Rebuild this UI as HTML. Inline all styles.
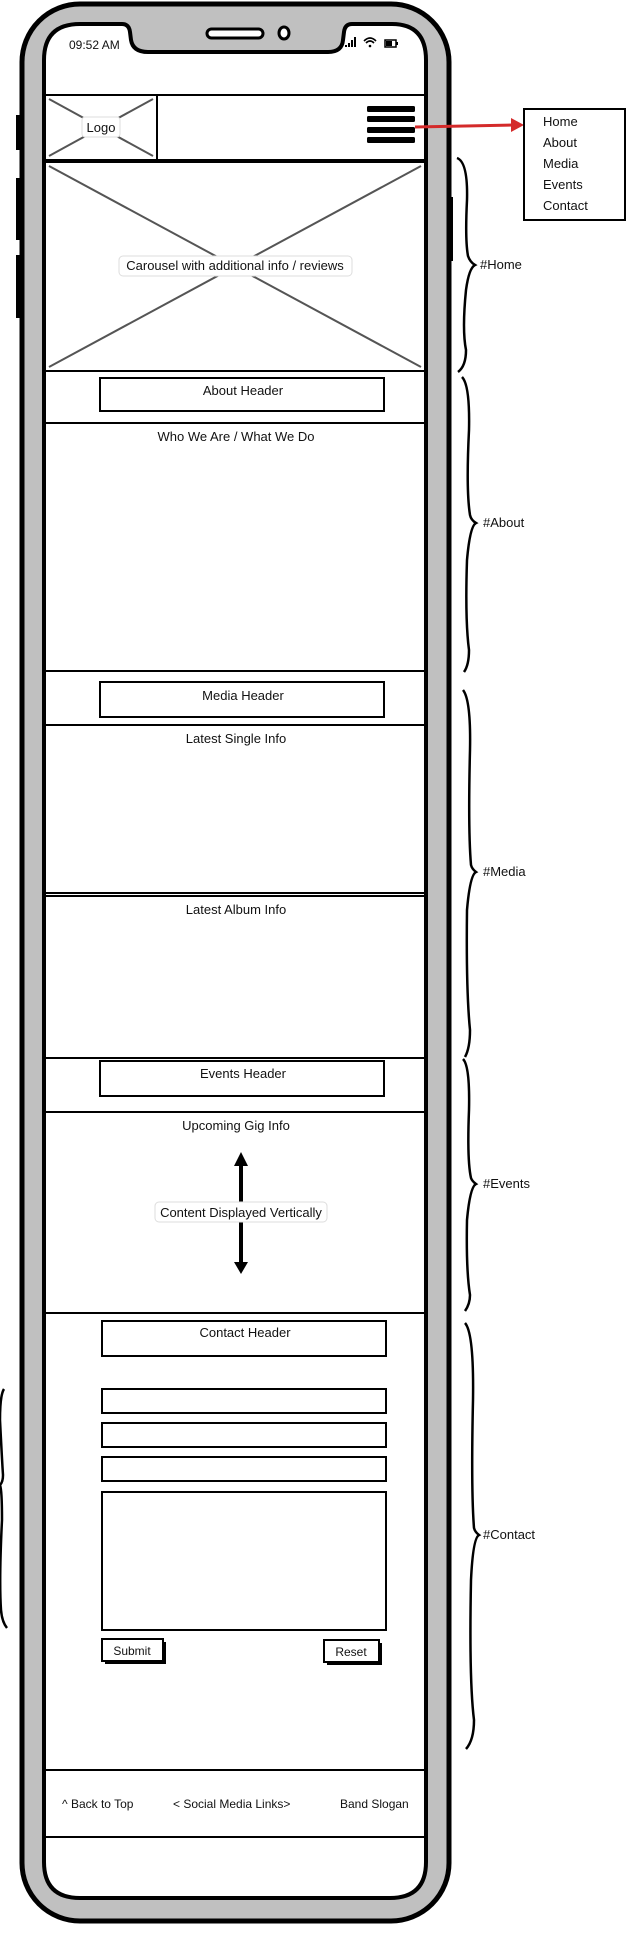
<!DOCTYPE html>
<html><head><meta charset="utf-8"><style>
html,body{margin:0;padding:0;background:#fff;}
svg{display:block;}
text{font-family:"Liberation Sans",sans-serif;fill:#111;}
</style></head><body>
<svg width="640" height="1941" viewBox="0 0 640 1941" xmlns="http://www.w3.org/2000/svg">
<!-- side buttons -->
<rect x="16" y="115" width="6" height="35" fill="#000"/>
<rect x="16" y="178" width="6" height="62" fill="#000"/>
<rect x="16" y="255" width="6" height="63" fill="#000"/>
<rect x="447" y="197" width="6" height="64" fill="#000"/>
<!-- phone body -->
<rect x="22" y="4" width="427" height="1917" rx="58" fill="#c0c0c0" stroke="#000" stroke-width="5"/>
<!-- screen -->
<path d="M80,24 L122,24 Q129,24 130,32 L131,40 Q133,52 148,52 L328,52 Q342,52 343,40 L344,32 Q345,24 352,24 L392,24 Q426,24 426,60 L426,1862 Q426,1898 390,1898 L80,1898 Q44,1898 44,1862 L44,60 Q44,24 80,24 Z" fill="#fff" stroke="#000" stroke-width="4"/>
<!-- speaker & camera -->
<rect x="207" y="29" width="56" height="9" rx="4.5" fill="#fff" stroke="#000" stroke-width="3"/>
<ellipse cx="284" cy="33" rx="5" ry="6" fill="#fff" stroke="#000" stroke-width="3"/>
<text x="69" y="49" font-size="12">09:52 AM</text>
<!-- status icons -->
<rect x="345" y="45" width="2" height="2" fill="#000"/><rect x="348" y="43" width="2" height="4" fill="#000"/><rect x="351" y="40" width="2" height="7" fill="#000"/><rect x="354" y="37" width="2" height="10" fill="#000"/>
<path d="M364,41 Q370,35 376,41 M366,43 Q370,39 374,43" stroke="#000" stroke-width="1.6" fill="none"/><circle cx="370" cy="46" r="1.3" fill="#000"/>
<rect x="385" y="40" width="11" height="7" fill="none" stroke="#000" stroke-width="1.5"/><rect x="386" y="41" width="6" height="5" fill="#000"/><rect x="396" y="42" width="2" height="3" fill="#000"/>

<g fill="none" stroke="#000">
<!-- header bar -->
<rect x="45" y="95" width="380" height="65" stroke-width="2"/>
<line x1="157" y1="95" x2="157" y2="160" stroke-width="2"/>
<line x1="49" y1="99" x2="153" y2="156" stroke="#555" stroke-width="2"/>
<line x1="153" y1="99" x2="49" y2="156" stroke="#555" stroke-width="2"/>
<!-- carousel -->
<rect x="45" y="162" width="380" height="209" stroke-width="2"/>
<line x1="49" y1="166" x2="421" y2="367" stroke="#555" stroke-width="2"/>
<line x1="421" y1="166" x2="49" y2="367" stroke="#555" stroke-width="2"/>
</g>
<rect x="82" y="117" width="38" height="20" rx="3" fill="#fff" stroke="#ddd"/>
<text x="101" y="132" font-size="13" text-anchor="middle">Logo</text>
<!-- hamburger -->
<rect x="367" y="106" width="48" height="6" rx="1.5" fill="#000"/>
<rect x="367" y="116" width="48" height="6" rx="1.5" fill="#000"/>
<rect x="367" y="127" width="48" height="6" rx="1.5" fill="#000"/>
<rect x="367" y="137" width="48" height="6" rx="1.5" fill="#000"/>
<!-- arrow -->
<path d="M415,127 L514,125" stroke="#d42a2a" stroke-width="3" fill="none"/>
<path d="M511,118 L524,125 L511,132 Z" fill="#d42a2a"/>
<!-- menu -->
<rect x="524" y="109" width="101" height="111" fill="#fff" stroke="#000" stroke-width="2"/>
<text x="543" y="126" font-size="13">Home</text>
<text x="543" y="147" font-size="13">About</text>
<text x="543" y="168" font-size="13">Media</text>
<text x="543" y="189" font-size="13">Events</text>
<text x="543" y="210" font-size="13">Contact</text>

<rect x="119" y="256" width="233" height="20" rx="4" fill="#fff" stroke="#ddd"/>
<text x="235" y="270" font-size="13" text-anchor="middle">Carousel with additional info / reviews</text>

<g fill="none" stroke="#000" stroke-width="2">
<rect x="100" y="378" width="284" height="33"/>
<rect x="45" y="423" width="380" height="248"/>
<rect x="100" y="682" width="284" height="35"/>
<rect x="45" y="725" width="380" height="168"/>
<rect x="45" y="896" width="380" height="162"/>
<rect x="100" y="1061" width="284" height="35"/>
<rect x="45" y="1112" width="380" height="201"/>
<rect x="102" y="1321" width="284" height="35"/>
<rect x="102" y="1389" width="284" height="24"/>
<rect x="102" y="1423" width="284" height="24"/>
<rect x="102" y="1457" width="284" height="24"/>
<rect x="102" y="1492" width="284" height="138"/>
<rect x="45" y="1770" width="380" height="67"/>
</g>
<text x="243" y="395" font-size="13" text-anchor="middle">About Header</text>
<text x="236" y="441" font-size="13" text-anchor="middle">Who We Are / What We Do</text>
<text x="243" y="700" font-size="13" text-anchor="middle">Media Header</text>
<text x="236" y="743" font-size="13" text-anchor="middle">Latest Single Info</text>
<text x="236" y="914" font-size="13" text-anchor="middle">Latest Album Info</text>
<text x="243" y="1078" font-size="13" text-anchor="middle">Events Header</text>
<text x="236" y="1130" font-size="13" text-anchor="middle">Upcoming Gig Info</text>
<text x="245" y="1337" font-size="13" text-anchor="middle">Contact Header</text>

<!-- vertical arrow -->
<line x1="241" y1="1160" x2="241" y2="1266" stroke="#000" stroke-width="4"/>
<path d="M234,1166 L241,1152 L248,1166 Z M234,1262 L241,1274 L248,1262 Z" fill="#000"/>
<rect x="155" y="1202" width="172" height="20" rx="4" fill="#fff" stroke="#ddd"/>
<text x="241" y="1217" font-size="13" text-anchor="middle">Content Displayed Vertically</text>

<!-- buttons -->
<rect x="105" y="1642" width="61" height="22" fill="#000"/>
<rect x="102" y="1639" width="61" height="22" fill="#fff" stroke="#000" stroke-width="2"/>
<text x="132" y="1655" font-size="12" text-anchor="middle">Submit</text>
<rect x="327" y="1643" width="55" height="22" fill="#000"/>
<rect x="324" y="1640" width="55" height="22" fill="#fff" stroke="#000" stroke-width="2"/>
<text x="351" y="1656" font-size="12" text-anchor="middle">Reset</text>

<text x="62" y="1808" font-size="12">^ Back to Top</text>
<text x="173" y="1808" font-size="12">&lt; Social Media Links&gt;</text>
<text x="340" y="1808" font-size="12">Band Slogan</text>

<!-- braces -->
<g fill="none" stroke="#000" stroke-width="2.5">
<path d="M457,158 Q468,162 467,200 Q465,240 468,256 Q470,262 475,265 Q469,268 466,290 Q462,330 466,350 Q466,366 458,372"/>
<path d="M462,377 Q470,385 469,430 Q466,490 470,515 Q471,520 476,523 Q470,526 467,560 Q465,620 469,650 Q469,665 464,672"/>
<path d="M463,690 Q471,700 470,750 Q468,830 471,865 Q472,869 476,872 Q470,875 467,910 Q466,990 470,1030 Q470,1048 465,1057"/>
<path d="M463,1059 Q470,1066 469,1110 Q467,1160 471,1178 Q472,1181 476,1184 Q470,1187 467,1220 Q466,1270 470,1295 Q470,1304 465,1311"/>
<path d="M465,1323 Q474,1333 473,1400 Q471,1490 474,1528 Q475,1532 479,1535 Q473,1538 471,1580 Q469,1680 474,1720 Q474,1740 466,1749"/>
<path d="M4,1389 Q0,1395 0,1420 Q2,1460 3,1475 Q3,1482 0,1485 Q2,1490 2,1520 Q-1,1580 1,1610 Q2,1622 7,1628"/>
</g>
<text x="480" y="269" font-size="13">#Home</text>
<text x="483" y="527" font-size="13">#About</text>
<text x="483" y="876" font-size="13">#Media</text>
<text x="483" y="1188" font-size="13">#Events</text>
<text x="483" y="1539" font-size="13">#Contact</text>
</svg>
</body></html>
